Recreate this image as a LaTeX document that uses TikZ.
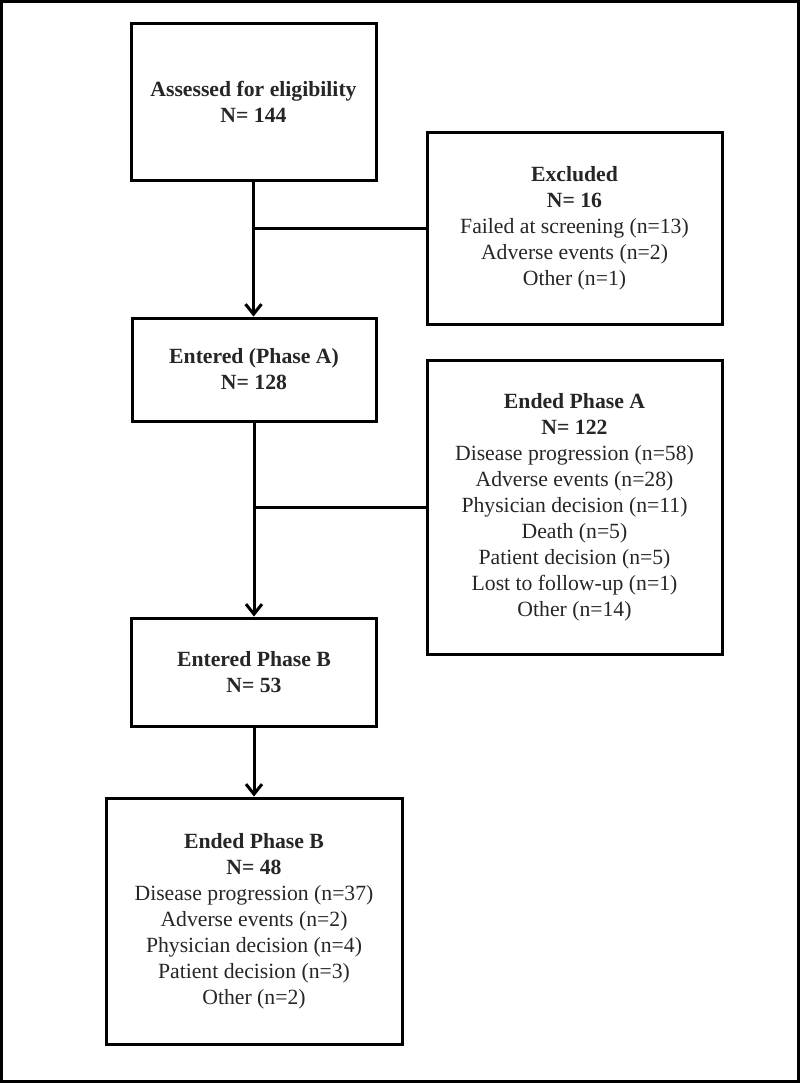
\documentclass[tikz,border=0pt]{standalone}
\usepackage{fontspec}
\setmainfont{Liberation Serif}
\usetikzlibrary{arrows.meta}
\newcommand{\txt}{\fontsize{10.85}{13}\selectfont}

\begin{document}
\begin{tikzpicture}[x=0.5pt,y=-0.5pt,
   box/.style={draw, line width=1.5pt, inner sep=0pt, align=center, text=black!85, font=\txt},
   link/.style={line width=1.5pt},
   arr/.style={link, -{Straight Barb[length=5pt,width=8pt,line width=1.5pt]}}]
   \useasboundingbox (0,0) rectangle (800,1083);
   \draw[line width=1.5pt] (1.5,1.5) rectangle (798.5,1081.5);
   % boxes, centres in pixels of the reference
   \node[box, minimum width=122.5pt, minimum height=78.5pt] (assess) at (253.5,101.5)
      {\textbf{Assessed for eligibility}\\ \textbf{N= 144}};
   \node[box, minimum width=147.5pt, minimum height=96pt] (excl) at (574.5,228)
      {\textbf{Excluded}\\ \textbf{N= 16}\\ Failed at screening (n=13)\\ Adverse events (n=2)\\ Other (n=1)};
   \node[box, minimum width=122pt, minimum height=51.5pt] (phaseA) at (254,369.5)
      {\textbf{Entered (Phase A)}\\ \textbf{N= 128}};
   \node[box, minimum width=147.5pt, minimum height=147pt] (endA) at (574.5,507)
      {\textbf{Ended Phase A}\\ \textbf{N= 122}\\ Disease progression (n=58)\\ Adverse events (n=28)\\
       Physician decision (n=11)\\ Death (n=5)\\ Patient decision (n=5)\\ Lost to follow-up (n=1)\\ Other (n=14)};
   \node[box, minimum width=122.5pt, minimum height=54pt] (phaseB) at (254,672)
      {\textbf{Entered Phase B}\\ \textbf{N= 53}};
   \node[box, minimum width=148pt, minimum height=123pt] (endB) at (254,921)
      {\textbf{Ended Phase B}\\ \textbf{N= 48}\\ Disease progression (n=37)\\ Adverse events (n=2)\\
       Physician decision (n=4)\\ Patient decision (n=3)\\ Other (n=2)};
   % connectors
   \draw[arr] (assess.south) -- (assess.south |- phaseA.north);
   \draw[link] (excl.west) -- (excl.west -| assess.south);
   \draw[arr] (phaseA.south) -- (phaseA.south |- phaseB.north);
   \draw[link] (endA.west) -- (endA.west -| phaseA.south);
   \draw[arr] (phaseB.south) -- (phaseB.south |- endB.north);
\end{tikzpicture}
\end{document}
